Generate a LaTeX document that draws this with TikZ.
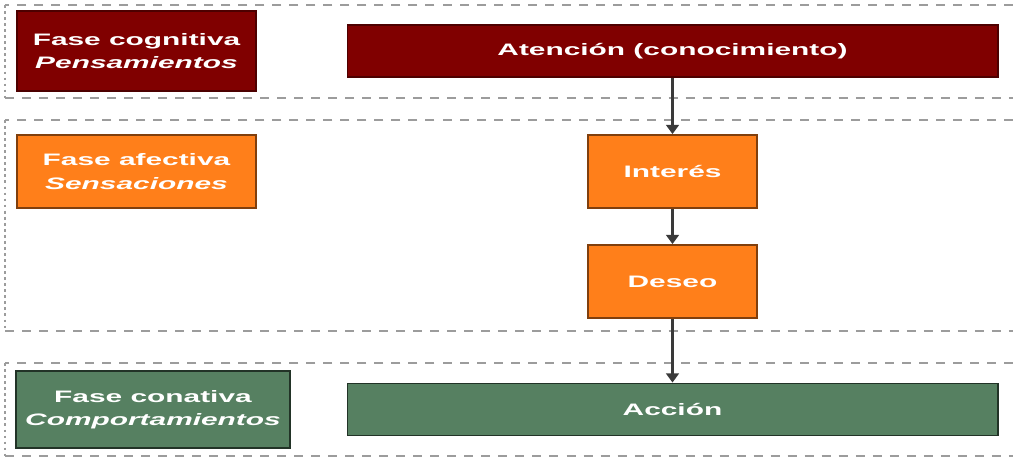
\documentclass[tikz,border=0pt]{standalone}
\usepackage{fontspec}
\newfontfamily\boxfont{Liberation Sans}[FakeStretch=1.8]
\usetikzlibrary{arrows.meta}

\definecolor{cognred}{HTML}{800000}
\definecolor{afecorange}{HTML}{FF7F1A}
\definecolor{conatgreen}{HTML}{568061}
\definecolor{bandgray}{HTML}{9C9C9C}
\definecolor{arrowgray}{HTML}{3A3A3A}

\begin{document}
\begin{tikzpicture}[
	x=0.025cm, y=-0.025cm,
	box/.style={draw, line width=1.3pt, align=center, text=white, inner sep=0pt,
		font={\boxfont\bfseries\fontsize{11.8}{16.6}\selectfont}},
	cogn/.style={box, fill=cognred, draw=cognred!60!black},
	afec/.style={box, fill=afecorange, draw=afecorange!50!black},
	conat/.style={box, fill=conatgreen, draw=conatgreen!40!black},
	band/.style={draw=bandgray, line width=1.9pt, dash pattern=on 6.4pt off 5.7pt},
	bandside/.style={draw=bandgray, line width=1.4pt, dash pattern=on 2pt off 2.3pt},
	edge/.style={-{Triangle[width=9pt,length=6.5pt]}, line width=2pt, draw=arrowgray},
]
\useasboundingbox (0,0) rectangle (1013,459);

% Bands
\draw[band] (1013,5) -- (5,5);
\draw[band] (5,98) -- (1013,98);
\draw[bandside] (5,5) -- (5,98);
\draw[band] (1013,120) -- (5,120);
\draw[band] (5,331) -- (1013,331);
\draw[bandside] (5,120) -- (5,331);
\draw[band] (1013,363) -- (5,363);
\draw[band] (5,456) -- (1013,456);
\draw[bandside] (5,363) -- (5,456);

% Left side nodes
\node[cogn, minimum width=5.975cm, minimum height=2cm] (cognitiva) at (136.5,51) {Fase cognitiva\\\itshape Pensamientos};
\node[afec, minimum width=5.975cm, minimum height=1.825cm] (afectiva) at (136.5,171.5) {Fase afectiva\\\itshape Sensaciones};
\node[conat, minimum width=6.85cm, minimum height=1.925cm] (conativa) at (153,409.5) {Fase conativa\\\itshape Comportamientos};

% Right side nodes
\node[cogn, minimum width=16.25cm, minimum height=1.3cm] (atencion) at (672.5,51) {Atención (conocimiento)};
\node[afec, minimum width=4.225cm, minimum height=1.825cm] (interes) at (672.5,171.5) {Interés};
\node[afec, minimum width=4.225cm, minimum height=1.825cm] (deseo) at (672.5,281.5) {Deseo};
\node[conat, minimum width=16.25cm, minimum height=1.3cm] (accion) at (672.5,409.5) {Acción};

% Edges
\draw[edge] (atencion) -- (interes);
\draw[edge] (interes) -- (deseo);
\draw[edge] (deseo) -- (accion);

\end{tikzpicture}
\end{document}
